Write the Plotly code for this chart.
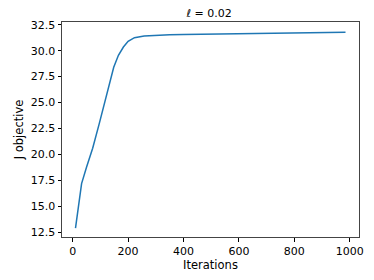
import plotly.graph_objects as go

# Data
iterations = [10, 15, 18, 23, 32, 50, 72, 96, 117, 130, 148, 165, 183, 200, 223, 258,
              300, 350, 400, 465, 500, 600, 700, 800, 900, 985]
j_objective = [12.9, 14.0, 14.7, 15.8, 17.2, 18.8, 20.6, 23.0, 25.3, 26.7, 28.4, 29.55,
               30.35, 30.9, 31.25, 31.4, 31.47, 31.52, 31.56, 31.59, 31.61, 31.65, 31.69,
               31.73, 31.75, 31.77]

x_ticks = [0, 200, 400, 600, 800, 1000]
y_ticks = [12.5, 15.0, 17.5, 20.0, 22.5, 25.0, 27.5, 30.0, 32.5]

# page body has an 8px margin, so the figure is shrunk by that much
W, H = 366, 272
L, R, T, B = 47, 11, 14, 41

fig = go.Figure(
    go.Scatter(
        x=iterations,
        y=j_objective,
        mode="lines",
        line=dict(color="#1f77b4", width=1.5),
        showlegend=False,
    )
)

fig.update_layout(
    width=W,
    height=H,
    margin=dict(l=L, r=R, t=T, b=B),
    plot_bgcolor="white",
    paper_bgcolor="white",
    font=dict(family="DejaVu Sans", size=11, color="black"),
    title=dict(
        text="<i>ℓ</i> = 0.02",
        x=(L + W - R) / 2 / W,
        xanchor="center",
        y=1 - 5.5 / H,
        yanchor="middle",
        font=dict(size=11),
    ),
)

# modify x-axis
fig.update_xaxes(
    title=dict(text="Iterations", standoff=3, font=dict(size=11.5)),
    range=[-38.75, 1033.75],
    tickvals=x_ticks,
    ticks="outside",
    ticklen=3.5,
    tickcolor="black",
    showline=True,
    linecolor="#444444",
    linewidth=1,
    mirror=True,
    showgrid=False,
    zeroline=False,
)

# modify y-axis
fig.update_yaxes(
    title=dict(text="J objective", standoff=4, font=dict(size=11.5)),
    range=[12.05, 32.76],
    tickvals=y_ticks,
    tickformat=".1f",
    ticks="outside",
    ticklen=3.5,
    tickcolor="black",
    showline=True,
    linecolor="#444444",
    linewidth=1,
    mirror=True,
    showgrid=False,
    zeroline=False,
)

fig.write_html("out.html")
